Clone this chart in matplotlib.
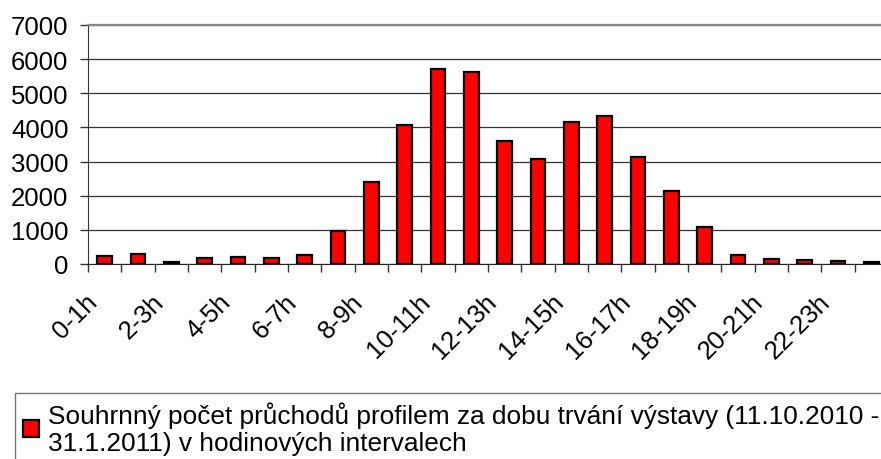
import matplotlib
matplotlib.use("Agg")
import matplotlib.pyplot as plt
import matplotlib.transforms as mtransforms
import numpy as np

# hourly interval names and summed passage counts
hours = [f"{h}-{h + 1}h" for h in range(24)]
counts = [230, 300, 60, 165, 215, 185, 250, 960, 2400, 4080, 5720, 5610,
          3590, 3070, 4150, 4330, 3140, 2130, 1095, 265, 155, 115, 95, 65]
yticks = [0, 1000, 2000, 3000, 4000, 5000, 6000, 7000]
series_label = ("Souhrnný počet průchodů profilem za dobu trvání výstavy (11.10.2010 -\n"
                "31.1.2011) v hodinových intervalech")

plt.rcParams["font.family"] = ["Liberation Sans", "DejaVu Sans"]
FS = 18.5

W, H = 881, 460
fig = plt.figure(figsize=(W / 100, H / 100), dpi=100)
fig.patch.set_facecolor("white")

# plot area runs slightly past the right edge, like the source
left, right, top, bottom = 88, 888, 26, 265
ax = fig.add_axes([left / W, 1 - bottom / H, (right - left) / W, (bottom - top) / H])

x = np.arange(len(hours))
ax.bar(x, counts, width=0.44, color="#ff0000", edgecolor="black",
       linewidth=1.6, zorder=3)

ax.set_xlim(-0.5, len(hours) - 0.5)
ax.set_ylim(0, 7000)

# y axis
ax.set_yticks(yticks)
ax.set_yticklabels([str(v) for v in yticks], fontsize=FS)
ax.tick_params(axis="y", direction="out", length=6, width=1, color="#333333", pad=8)
ax.grid(axis="y", color="#333333", linewidth=0.9, zorder=0)

# x axis: tick marks on category boundaries, labels on every other category
ax.set_xticks(np.arange(len(hours) + 1) - 0.5)
ax.set_xticklabels([])
ax.tick_params(axis="x", which="major", direction="out", length=6, width=1, color="#333333")
ax.set_xticks(x[::2], minor=True)
ax.set_xticklabels(hours[::2], minor=True, fontsize=FS, rotation=45,
                   ha="right", va="top", rotation_mode="anchor")
ax.tick_params(axis="x", which="minor", length=0, pad=18)
shift = mtransforms.ScaledTranslation(-20 / 100, 0, fig.dpi_scale_trans)
for lab in ax.get_xticklabels(minor=True):
    lab.set_transform(lab.get_transform() + shift)

ax.spines["right"].set_visible(False)
ax.spines["top"].set_color("#888888")
ax.spines["top"].set_linewidth(1.6)
ax.spines["left"].set_color("#333333")
ax.spines["bottom"].set_color("#222222")

# legend box at the bottom, running off the right edge as in the source
leg = fig.legend([plt.Rectangle((0, 0), 1, 1, facecolor="#ff0000", edgecolor="black", linewidth=1.6)],
                 [series_label], loc="upper left",
                 bbox_to_anchor=(15 / W, 1 - 394 / H), borderaxespad=0,
                 fontsize=18.9, frameon=True, fancybox=False, borderpad=0.3,
                 handlelength=0.6, handleheight=0.6, handletextpad=0.35)
leg.get_frame().set_edgecolor("#555555")
leg.get_frame().set_linewidth(1.0)

fig.savefig("out.png", dpi=100)
